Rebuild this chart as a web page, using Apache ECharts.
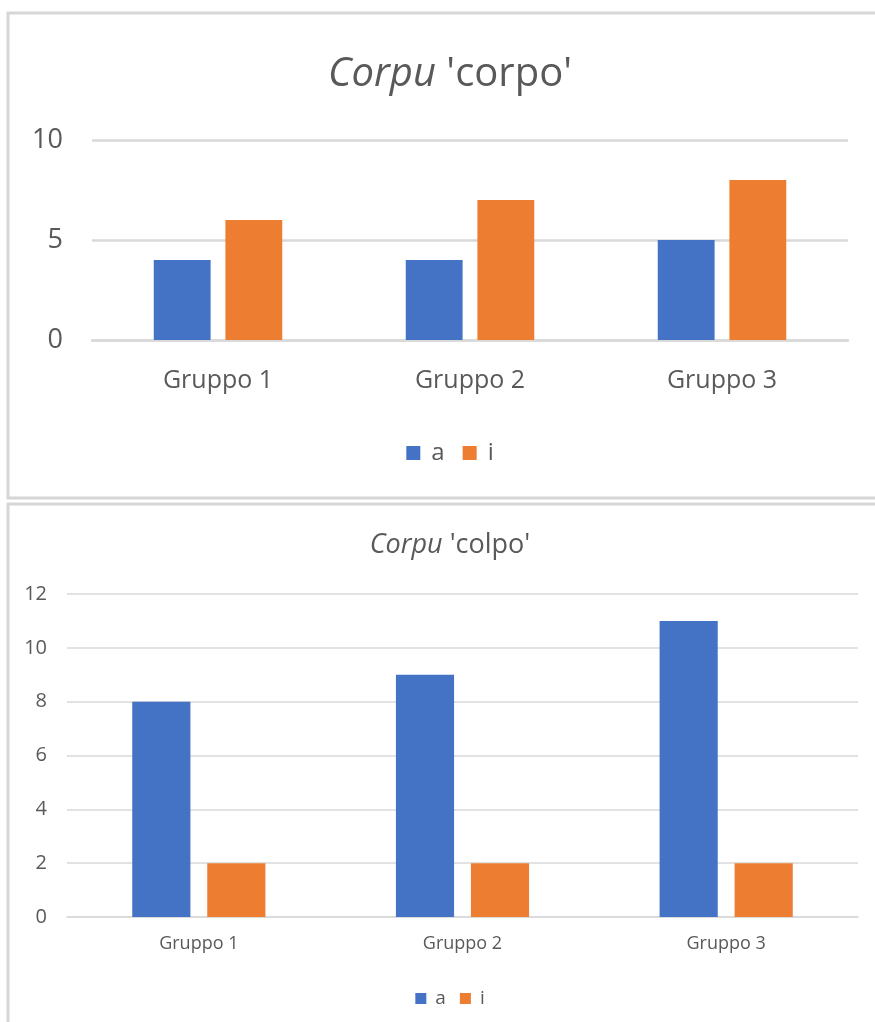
<!DOCTYPE html>
<html>
<head>
<meta charset="utf-8">
<style>
  html, body { margin: 0; padding: 0; background: #ffffff; overflow: hidden; width: 875px; height: 1022px; }
  #chart { width: 900px; height: 1022px; }
</style>
<script src="https://cdn.jsdelivr.net/npm/echarts@6/dist/echarts.min.js"></script>
</head>
<body>
<div id="chart"></div>
<script>
// Groups shown on both charts
const groups = ['Gruppo 1', 'Gruppo 2', 'Gruppo 3'];
const seriesNames = ['a', 'i'];

// 'corpo' counts
const corpoA = [4, 4, 5];
const corpoI = [6, 7, 8];

// 'colpo' counts
const colpoA = [8, 9, 11];
const colpoI = [2, 2, 2];

const BLUE = '#4472C4';
const ORANGE = '#ED7D31';
const TEXT = '#595959';
const GRID = '#D9D9D9';
const FONT = '"Open Sans", "Noto Sans", sans-serif';
const W = 900; // chart frame width; its right edge runs past the page

const chart = echarts.init(document.getElementById('chart'), null, { renderer: 'canvas' });

function bar(name, data, color, axisIndex, gap, catGap) {
  return {
    type: 'bar',
    name: name,
    data: data,
    xAxisIndex: axisIndex,
    yAxisIndex: axisIndex,
    barGap: gap,
    barCategoryGap: catGap,
    itemStyle: { color: color },
    emphasis: { disabled: true }
  };
}

const option = {
  backgroundColor: '#ffffff',
  animation: false,
  textStyle: { fontFamily: FONT, color: TEXT },
  graphic: [
    { type: 'rect', shape: { x: 8, y: 13, width: 920, height: 485 },
      style: { fill: 'none', stroke: '#d6d6d6', lineWidth: 3 }, z: 0 },
    { type: 'rect', shape: { x: 8, y: 504, width: 920, height: 600 },
      style: { fill: 'none', stroke: '#d6d6d6', lineWidth: 3 }, z: 0 }
  ],
  title: [
    {
      text: "{it|Corpu} 'corpo'",
      left: 'center', top: 50,
      textStyle: {
        fontFamily: FONT, fontSize: 40, fontWeight: 'normal', color: TEXT,
        rich: { it: { fontFamily: FONT, fontSize: 40, fontStyle: 'italic', color: TEXT } }
      }
    },
    {
      text: "{it|Corpu} 'colpo'",
      left: 'center', top: 527,
      textStyle: {
        fontFamily: FONT, fontSize: 27, fontWeight: 'normal', color: TEXT,
        rich: { it: { fontFamily: FONT, fontSize: 27, fontStyle: 'italic', color: TEXT } }
      }
    }
  ],
  legend: [
    {
      data: seriesNames, left: 'center', top: 436,
      icon: 'rect', itemWidth: 14, itemHeight: 14, itemGap: 18,
      textStyle: { fontFamily: FONT, fontSize: 24, color: TEXT, padding: [0, 0, 0, 6] }
    },
    {
      data: seriesNames, left: 'center', top: 984,
      icon: 'rect', itemWidth: 11, itemHeight: 11, itemGap: 14,
      textStyle: { fontFamily: FONT, fontSize: 19, color: TEXT, padding: [0, 0, 0, 4] }
    }
  ],
  grid: [
    { left: 92, right: W - 848, top: 140, bottom: 1022 - 340 },
    { left: 67, right: W - 858, top: 594, bottom: 1022 - 917 }
  ],
  xAxis: [
    {
      type: 'category', data: groups, gridIndex: 0,
      axisLine: { lineStyle: { color: GRID, width: 2.5 } },
      axisTick: { show: false },
      axisLabel: { fontFamily: FONT, fontSize: 25, color: TEXT, margin: 28 }
    },
    {
      type: 'category', data: groups, gridIndex: 1,
      axisLine: { lineStyle: { color: GRID, width: 1.5 } },
      axisTick: { show: false },
      axisLabel: { fontFamily: FONT, fontSize: 18, color: TEXT, margin: 18 }
    }
  ],
  yAxis: [
    {
      type: 'value', gridIndex: 0, min: 0, max: 10, interval: 5,
      axisLine: { show: false }, axisTick: { show: false },
      splitLine: { lineStyle: { color: GRID, width: 2.5 } },
      axisLabel: { fontFamily: FONT, fontSize: 27, color: TEXT, margin: 29 }
    },
    {
      type: 'value', gridIndex: 1, min: 0, max: 12, interval: 2,
      axisLine: { show: false }, axisTick: { show: false },
      splitLine: { lineStyle: { color: GRID, width: 1.5 } },
      axisLabel: { fontFamily: FONT, fontSize: 20, color: TEXT, margin: 20 }
    }
  ],
  series: [
    bar('a', corpoA, BLUE, 0, '26%', '49%'),
    bar('i', corpoI, ORANGE, 0, '26%', '49%'),
    bar('a', colpoA, BLUE, 1, '29%', '49.5%'),
    bar('i', colpoI, ORANGE, 1, '29%', '49.5%')
  ]
};

chart.setOption(option);
</script>
</body>
</html>
